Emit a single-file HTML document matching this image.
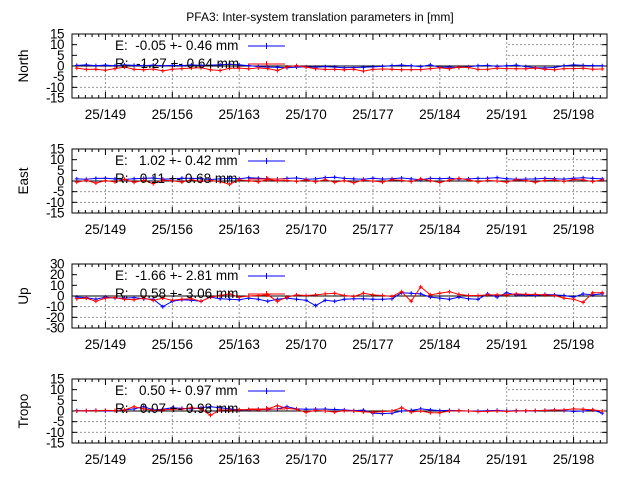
<!DOCTYPE html>
<html><head><meta charset="utf-8"><style>
html,body{margin:0;padding:0;background:#fff;}
svg{display:block;font-family:"Liberation Sans",sans-serif;}
text{white-space:pre;}
</style></head><body>
<svg id="chart" width="640" height="480" viewBox="0 0 640 480">
<text x="320" y="21" text-anchor="middle" font-size="12">PFA3: Inter-system translation parameters in [mm]</text>
</svg>
<script>
// days 146..201
const days = [146,147,148,149,150,151,152,153,154,155,156,157,158,159,160,161,162,163,164,165,166,167,168,169,170,171,172,173,174,175,176,177,178,179,180,181,182,183,184,185,186,187,188,189,190,191,192,193,194,195,196,197,198,199,200,201];
const xTickDays = [149,156,163,170,177,184,191,198];
const xTickLabels = ["25/149","25/156","25/163","25/170","25/177","25/184","25/191","25/198"];
const panelNames = ["North","East","Up","Tropo"];
const panelMax = [15,15,30,15];
const yTicks15 = [15,10,5,0,-5,-10,-15];
const yTicks30 = [30,20,10,0,-10,-20,-30];
const legendE = ["E:  -0.05 +- 0.46 mm","E:   1.02 +- 0.42 mm","E:  -1.66 +- 2.81 mm","E:   0.50 +- 0.97 mm"];
const legendR = ["R:  -1.27 +- 0.64 mm","R:   0.11 +- 0.68 mm","R:   0.58 +- 3.06 mm","R:   0.07 +- 0.98 mm"];
const northE = [0.3,0.5,0.2,0.4,0.1,0.5,0.3,0.2,0.4,0.1,0.3,0.2,0.5,0.3,0.4,0.6,0.8,0.5,0.2,-0.3,-0.5,-0.6,-0.8,-0.5,-0.4,-0.6,-0.3,-0.5,-0.8,-0.7,-0.6,-0.4,-0.2,0.2,0.4,0.1,-0.3,0.5,-0.6,-0.5,-0.7,-0.4,0.1,0.3,-0.2,0.1,0.4,-0.3,-0.8,-0.9,-0.7,0.1,0.5,0.3,0.2,0.1];
const northR = [-1.0,-1.6,-1.5,-2.0,-1.2,-0.5,-1.5,-1.8,-1.4,-2.3,-1.5,-1.2,-1.0,-0.8,-1.8,-2.1,-1.1,-1.0,-1.3,-0.9,-1.2,-2.1,-0.4,0.2,-0.5,-1.3,-1.6,-1.6,-1.8,-1.5,-2.4,-1.6,-1.4,-1.5,-1.8,-1.7,-1.7,-1.2,-0.8,-1.3,-0.5,-0.7,-1.6,-1.5,-1.0,-1.2,-1.3,-1.3,-1.0,-1.5,-1.8,-1.2,-1.2,-1.1,-1.5,-1.4];
const eastE = [1.0,0.8,1.2,1.3,1.0,0.7,1.1,1.2,1.4,0.9,1.0,1.3,1.2,1.1,0.7,1.0,1.2,1.1,1.5,1.3,1.1,0.9,1.2,1.4,0.8,1.0,1.6,1.8,1.2,1.0,0.8,1.3,0.9,1.1,1.4,1.0,0.6,1.2,1.1,1.3,0.9,1.0,1.2,1.3,1.6,1.1,0.8,0.9,1.0,1.2,1.1,0.9,1.3,1.5,1.2,1.0];
const eastR = [-0.5,0.3,-1.0,0.2,-0.4,0.8,-0.6,0.3,-1.2,0.4,0.1,-0.5,0.6,-0.2,0.3,-0.3,-1.5,0.5,0.2,-0.4,0.7,0.1,0.3,-0.2,0.5,-0.4,0.6,-0.6,0.2,-0.8,0.4,0.0,-0.5,0.6,0.3,-0.3,1.0,0.2,-0.7,0.4,1.2,0.5,-0.4,0.3,0.0,-0.5,0.6,0.2,-0.6,0.3,0.4,-0.2,0.7,0.5,-0.3,0.5];
const upE = [-1.0,-1.5,-3.0,-1.0,-2.0,-2.0,-1.5,-2.5,-3.0,-10.0,-5.0,-3.5,-4.0,-5.0,-1.0,-2.5,-3.0,-3.5,-2.0,-3.0,-5.0,-3.0,-2.0,-3.0,-4.0,-9.0,-4.0,-5.0,-3.0,-2.5,-2.5,-3.0,-3.0,-2.5,3.0,2.5,2.0,-1.0,-2.0,-3.0,-1.0,-2.5,-3.0,2.0,-1.0,3.0,1.0,1.0,0.5,1.5,1.0,0.5,-1.0,2.0,1.0,2.0];
const upR = [-2.5,-2.0,-5.0,-2.0,-1.5,-3.0,-3.5,-2.0,-4.0,-2.0,-4.0,-3.0,-2.5,-5.0,-1.0,0.5,2.0,-1.0,0.0,0.5,1.0,-5.0,-1.0,1.0,0.5,1.0,2.0,2.5,0.5,-0.5,2.5,1.0,0.5,-0.5,4.0,-5.0,8.5,1.0,2.5,4.0,1.5,0.5,0.5,1.0,1.0,1.0,2.0,1.5,1.5,1.0,0.5,-2.0,-3.0,-6.0,3.0,3.0];
const tropoE = [0.2,0.1,0.3,0.0,0.2,0.5,1.0,2.0,0.5,0.8,1.5,1.2,1.0,1.5,2.0,1.5,1.0,0.5,0.6,0.8,0.7,1.0,2.0,1.0,0.8,0.9,0.9,0.7,0.5,0.2,0.4,-1.0,-1.2,-1.0,0.0,0.3,1.0,0.5,0.2,0.3,0.2,0.0,0.0,0.1,0.3,0.0,0.2,0.0,0.1,0.3,0.5,0.2,-0.2,0.0,0.5,-1.0];
const tropoR = [0.0,0.1,0.2,0.3,0.2,0.5,2.0,1.0,0.3,0.5,0.8,0.9,1.5,1.0,-2.0,0.5,0.4,0.6,0.7,0.5,1.0,2.5,1.2,0.8,-0.6,0.3,0.0,-0.5,0.2,0.0,-0.4,-0.6,-0.3,0.0,1.5,-0.5,0.0,-0.8,-0.8,0.0,0.1,0.0,-0.3,-0.2,0.0,-0.2,0.0,0.1,0.2,0.3,0.4,0.5,1.0,0.8,0.5,0.0];
const seriesE = [northE,eastE,upE,tropoE];
const seriesR = [northR,eastR,upR,tropoR];

const svg = document.getElementById('chart');
const NS = 'http://www.w3.org/2000/svg';
const X0 = 72, X1 = 607, DMIN = 145.5, DMAX = 201.5;
function xs(d){ return X0 + (d-DMIN)/(DMAX-DMIN)*(X1-X0); }
function mk(tag, attrs, parent){ const e=document.createElementNS(NS,tag); for(const k in attrs) e.setAttribute(k,attrs[k]); (parent||svg).appendChild(e); return e; }

for(let p=0;p<4;p++){
  const top = 34 + p*115, bot = 98 + p*115, M = panelMax[p];
  const ys = v => top + (M - v)/(2*M)*(bot-top);
  const g = mk('g',{});
  
  
  const ticks = M===30 ? yTicks30 : yTicks15;
  ticks.forEach(v=>{ if(v!==M && v!==-M && v!==0){ const l=mk('line',{x1:X0,x2:X1,y1:ys(v),y2:ys(v),stroke:'#999','stroke-dasharray':'2,2','stroke-width':1},g);
      }});
  xTickDays.forEach(d=>{ const l=mk('line',{x1:xs(d),x2:xs(d),y1:top,y2:bot,stroke:'#999','stroke-dasharray':'2,2','stroke-width':1},g);
      });
  const kb = mk('rect',{x:X0+1,y:top+1,width:xs(191)-X0-2,height:ys(M>15?2:1)-top-1,fill:'#fff'},g);
   
  const z = mk('line',{x1:X0,x2:X1,y1:ys(0),y2:ys(0),stroke:'#000','stroke-width':1},g);
   
  const fr = mk('rect',{x:X0,y:top,width:X1-X0,height:bot-top,fill:'none',stroke:'#000','stroke-width':1},g);
   
  ticks.forEach(v=>{
    mk('line',{x1:X0,x2:X0+5,y1:ys(v),y2:ys(v),stroke:'#000'},g);
    mk('line',{x1:X1,x2:X1-5,y1:ys(v),y2:ys(v),stroke:'#000'},g);
    const t = mk('text',{x:64,y:ys(v)+4.5,'text-anchor':'end','font-size':13.5,'letter-spacing':'-0.5'},g);
    t.textContent = v;
     
  });
  for(let d=149-0.7*4; d<=DMAX; d+=0.7){
    if(d<DMIN) continue;
    const major = Math.abs(((d-149)/7) - Math.round((d-149)/7))<0.01;
    const len = major?6:3;
    mk('line',{x1:xs(d),x2:xs(d),y1:bot,y2:bot-len,stroke:'#000'},g);
    mk('line',{x1:xs(d),x2:xs(d),y1:top,y2:top+len,stroke:'#000'},g);
  }
  xTickDays.forEach((d,i)=>{
    const t = mk('text',{x:xs(d),y:bot+21,'text-anchor':'middle','font-size':13.5},g);
    t.textContent = xTickLabels[i];
     
  });
  const yt = mk('text',{x:0,y:0,'text-anchor':'middle','font-size':13.5,transform:`translate(28,${(top+bot)/2}) rotate(-90)`},g);
  yt.textContent = panelNames[p];
   
  const le = mk('text',{x:115,y:top+16,'font-size':13.5},g);
  le.textContent = legendE[p];
   
  mk('line',{x1:248,x2:285,y1:top+12,y2:top+12,stroke:'#0000ff','stroke-width':1},g);
  mk('path',{d:`M266.5,${top+9}v6M263.5,${top+12}h6`,stroke:'#0000ff'},g);
  [[seriesE[p],'#0000ff','series-e'],[seriesR[p],'#ff0000','series-r']].forEach(([arr,col,nm])=>{
    const pts = arr.map((v,i)=>xs(days[i]).toFixed(1)+','+ys(v).toFixed(1)).join(' ');
    const pl = mk('polyline',{points:pts,fill:'none',stroke:col,'stroke-width':1},g);
     
    let d='';
    arr.forEach((v,i)=>{ const x=xs(days[i]), y=ys(v); d+=`M${(x-2).toFixed(1)},${y.toFixed(1)}h4M${x.toFixed(1)},${(y-2).toFixed(1)}v4`; });
    const mp = mk('path',{d:d,stroke:col,'stroke-width':1,fill:'none'},g);
     
  });
  const lr = mk('text',{x:115,y:top+34,'font-size':13.5},g);
  lr.textContent = legendR[p];
   
  mk('line',{x1:248,x2:285,y1:top+30,y2:top+30,stroke:'#ff0000','stroke-width':1},g);
  mk('path',{d:`M266.5,${top+27}v6M263.5,${top+30}h6`,stroke:'#ff0000'},g);
}
</script>
</body></html>
